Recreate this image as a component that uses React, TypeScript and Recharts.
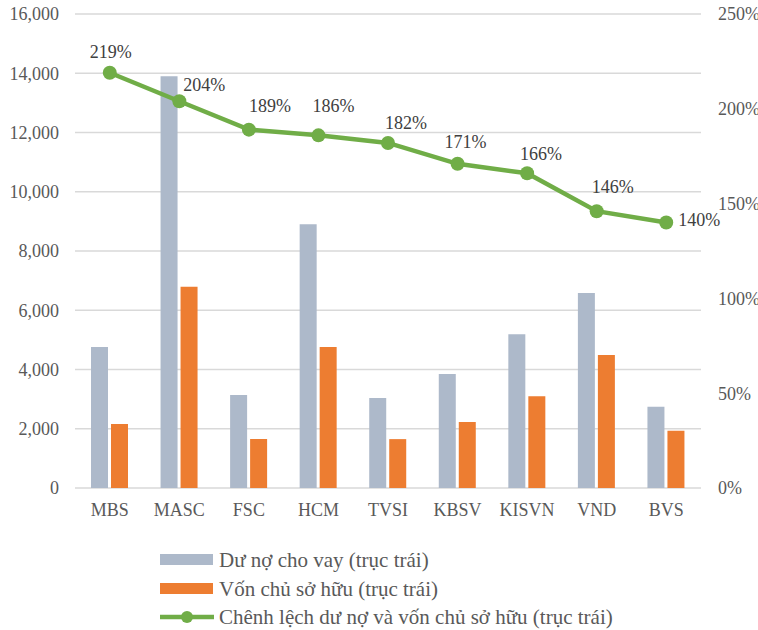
import React from 'react';
import {
  ComposedChart,
  Bar,
  Line,
  XAxis,
  YAxis,
  CartesianGrid,
  Legend,
  LabelList,
} from 'recharts';

const categories = ['MBS', 'MASC', 'FSC', 'HCM', 'TVSI', 'KBSV', 'KISVN', 'VND', 'BVS'];
const loans = [4760, 13900, 3140, 8900, 3040, 3850, 5190, 6580, 2740];
const equity = [2160, 6790, 1650, 4760, 1650, 2230, 3100, 4490, 1930];
const ratio = [219, 204, 189, 186, 182, 171, 166, 146, 140];

const leftTicks = [0, 2000, 4000, 6000, 8000, 10000, 12000, 14000, 16000];
const rightTicks = [0, 50, 100, 150, 200, 250];

const seriesNames = [
  'Dư nợ cho vay (trục trái)',
  'Vốn chủ sở hữu (trục trái)',
  'Chênh lệch dư nợ và vốn chủ sở hữu (trục trái)',
];

// label offsets (dx, dy) relative to each point, for the line's data labels
const labelOffsets: [number, number][] = [
  [1, -21],
  [25, -16],
  [21, -24],
  [15, -29],
  [18, -20],
  [8, -22],
  [14, -19],
  [16, -24],
  [33, -3],
];

const data = categories.map((name, i) => ({
  name,
  loans: loans[i],
  equity: equity[i],
  ratio: ratio[i],
}));

const FONT = "'Liberation Serif', 'DejaVu Serif', 'Times New Roman', Tinos, serif";
const BLUE = '#adb9ca';
const ORANGE = '#ed7d31';
const GREEN = '#70ad47';
const TICK = '#595959';

const renderLineLabel = (props: any) => {
  const { x, y, value, index } = props;
  const [dx, dy] = labelOffsets[index] || [0, -20];
  return (
    <text
      x={x + dx}
      y={y + dy}
      textAnchor="middle"
      dominantBaseline="central"
      style={{ fontFamily: FONT, fontSize: 18 }}
      fill="#404040"
    >
      {`${value}%`}
    </text>
  );
};

const renderLegend = () => (
  <div
    style={{
      height: 88,
      paddingLeft: 160,
      paddingTop: 4,
      boxSizing: 'border-box',
      fontFamily: FONT,
      fontSize: 21,
      lineHeight: '24px',
      color: TICK,
      textAlign: 'left',
    }}
  >
    {seriesNames.map((n, i) => (
      <div key={n} style={{ display: 'flex', alignItems: 'center', height: 28.5, whiteSpace: 'nowrap' }}>
        <svg width={54} height={14} style={{ marginRight: 5, flex: 'none' }}>
          {i < 2 ? (
            <rect x={0} y={1} width={53} height={11} fill={i === 0 ? BLUE : ORANGE} />
          ) : (
            <g>
              <line x1={0} y1={7} x2={54} y2={7} stroke={GREEN} strokeWidth={4.5} />
              <circle cx={27} cy={7} r={6} fill={GREEN} />
            </g>
          )}
        </svg>
        <span>{n}</span>
      </div>
    ))}
  </div>
);

const tickStyle = { fontFamily: FONT, fontSize: 18, fill: TICK };

export default function App() {
  return (
    <div style={{ position: 'absolute', left: 0, top: 0, background: '#fff', fontFamily: FONT }}>
      <ComposedChart
        width={758}
        height={630}
        data={data}
        margin={{ top: 14, right: 0, left: 0, bottom: 0 }}
        barGap={3}
        barSize={17}
        style={{ fontFamily: FONT }}
      >
        <CartesianGrid yAxisId="left" vertical={false} stroke="#d9d9d9" strokeWidth={1.5} />
        <XAxis
          dataKey="name"
          axisLine={false}
          tickLine={false}
          tickMargin={9}
          height={54}
          interval={0}
          tick={tickStyle}
        />
        <YAxis
          yAxisId="left"
          orientation="left"
          width={75}
          domain={[0, 16000]}
          ticks={leftTicks}
          axisLine={false}
          tickLine={false}
          tickMargin={10}
          tickFormatter={(v: number) => v.toLocaleString('en-US')}
          tick={tickStyle}
        />
        <YAxis
          yAxisId="right"
          orientation="right"
          width={57}
          domain={[0, 250]}
          ticks={rightTicks}
          axisLine={false}
          tickLine={false}
          tickMargin={11}
          tickFormatter={(v: number) => `${v}%`}
          tick={tickStyle}
        />
        <Legend verticalAlign="bottom" content={renderLegend} />
        <Bar yAxisId="left" dataKey="loans" name={seriesNames[0]} fill={BLUE} isAnimationActive={false} />
        <Bar yAxisId="left" dataKey="equity" name={seriesNames[1]} fill={ORANGE} isAnimationActive={false} />
        <Line
          yAxisId="right"
          dataKey="ratio"
          name={seriesNames[2]}
          stroke={GREEN}
          strokeWidth={4.5}
          dot={{ r: 7, fill: GREEN, stroke: 'none' }}
          activeDot={false}
          isAnimationActive={false}
        >
          <LabelList dataKey="ratio" content={renderLineLabel} />
        </Line>
      </ComposedChart>
    </div>
  );
}
